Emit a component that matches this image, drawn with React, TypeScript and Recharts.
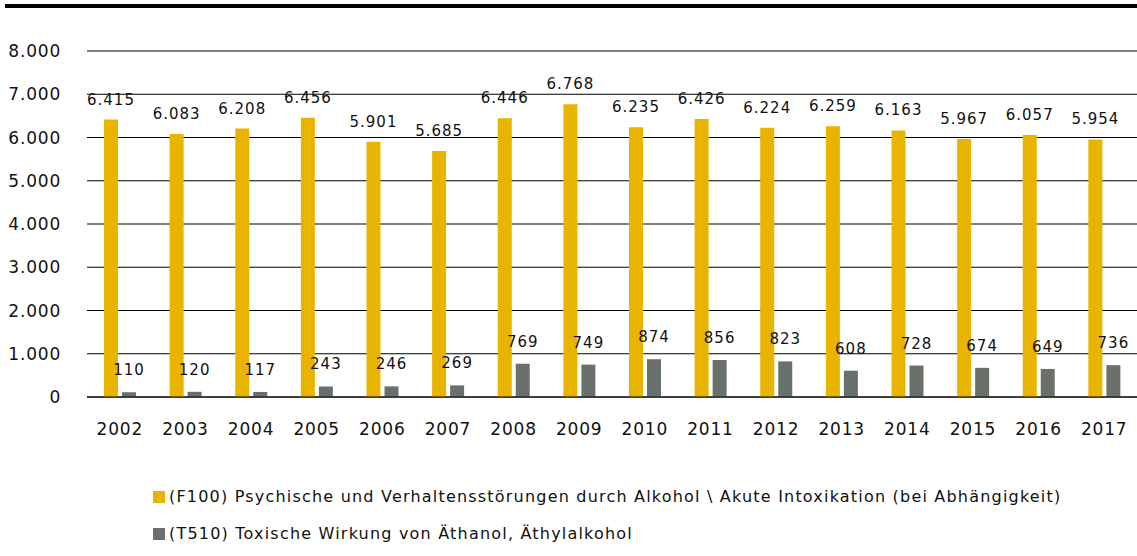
import { BarChart, Bar, XAxis, YAxis, CartesianGrid, LabelList } from "recharts";

const years = ["2002", "2003", "2004", "2005", "2006", "2007", "2008", "2009", "2010", "2011", "2012", "2013", "2014", "2015", "2016", "2017"];
const f100 = [6415, 6083, 6208, 6456, 5901, 5685, 6446, 6768, 6235, 6426, 6224, 6259, 6163, 5967, 6057, 5954];
const t510 = [110, 120, 117, 243, 246, 269, 769, 749, 874, 856, 823, 608, 728, 674, 649, 736];
const yTicks = [0, 1000, 2000, 3000, 4000, 5000, 6000, 7000, 8000];

const seriesNames = [
  "(F100) Psychische und Verhaltensstörungen durch Alkohol \\ Akute Intoxikation (bei Abhängigkeit)",
  "(T510) Toxische Wirkung von Äthanol, Äthylalkohol",
];
const colors = ["#E8B400", "#68726A"];

const data = years.map((y, i) => ({ year: y, f100: f100[i], t510: t510[i] }));

const fmt = (v: number) => v.toLocaleString("de-DE");
const font = "'DejaVu Sans', sans-serif";

export default function App() {
  return (
    <div style={{ position: "absolute", left: 0, top: 0, width: 1137, height: 556, background: "#fff", fontFamily: font }}>
      <div style={{ position: "absolute", left: 5, top: 4, width: 1132, height: 4, background: "#000" }} />
      <BarChart
        width={1137}
        height={470}
        data={data}
        margin={{ top: 51, right: 0, bottom: 0, left: 0 }}
        barSize={14}
        barGap={4}
      >
        <CartesianGrid vertical={false} stroke="#000" strokeWidth={1.2} />
        <XAxis
          dataKey="year"
          axisLine={{ stroke: "#000" }}
          tickLine={false}
          height={73}
          tickMargin={20}
          tick={{ fill: "#111", fontSize: 17, fontFamily: font, letterSpacing: 0.8 }}
        />
        <YAxis
          width={87}
          domain={[0, 8000]}
          ticks={yTicks}
          axisLine={false}
          tickLine={false}
          tickMargin={20}
          tickFormatter={fmt}
          tick={{ fill: "#111", fontSize: 17, fontFamily: font, letterSpacing: 0.8 }}
        />
        <Bar dataKey="f100" fill={colors[0]} isAnimationActive={false}>
          <LabelList dataKey="f100" position="top" offset={15} formatter={(v: number) => fmt(v)} style={{ fill: "#111", fontSize: 15, fontFamily: font, letterSpacing: 1 }} />
        </Bar>
        <Bar dataKey="t510" fill={colors[1]} isAnimationActive={false}>
          <LabelList dataKey="t510" position="top" offset={17} formatter={(v: number) => fmt(v)} style={{ fill: "#111", fontSize: 15, fontFamily: font, letterSpacing: 1 }} />
        </Bar>
      </BarChart>
      {seriesNames.map((n, i) => (
        <div key={n} style={{ position: "absolute", left: 153, top: 487 + i * 37, display: "flex", alignItems: "center", fontSize: 16, color: "#111", letterSpacing: 1.2 }}>
          <span style={{ display: "inline-block", width: 12, height: 12, background: colors[i], marginRight: 4 }} />
          {n}
        </div>
      ))}
    </div>
  );
}
